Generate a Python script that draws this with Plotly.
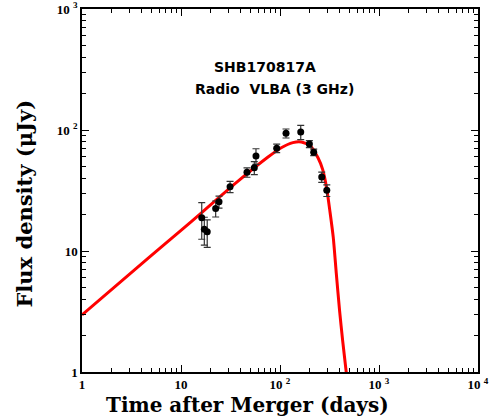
import plotly.graph_objects as go

# Radio (3 GHz) afterglow measurements of SHB170817A
days = [16.2, 17.2, 18.4, 22.4, 24.2, 31.3, 46.4, 55.0, 57.2, 92.6,
        115, 162, 198, 219, 264, 297]
flux = [18.8, 15.1, 14.4, 22.5, 25.5, 34.0, 44.7, 48.8, 61.0, 70.6,
        93.9, 96.3, 76.6, 65.4, 40.9, 31.7]
flux_err = [6.3, 3.9, 3.7, 3.4, 2.9, 3.6, 4.0, 6.0, 9.0, 5.7,
            8.0, 13.0, 5.0, 4.0, 4.0, 3.5]

# Model light curve (days, microJy)
model_days = [1, 4.86, 10, 16.3, 37.7, 75.7, 103, 135, 164, 200,
              242, 270, 296, 320, 345, 370, 400, 430, 464, 500]
model_flux = [2.96, 8.97, 14.8, 20.9, 37.8, 59.8, 71.4, 78.6, 79.6, 74.7,
              59.0, 47.0, 33.0, 21.0, 13.0, 6.6, 3.2, 1.8, 1.04, 0.6]

x_tickvals = [1, 10, 100, 1000, 10000]
x_ticktext = ["1", "10", "10 <sup>2</sup>", "10 <sup>3</sup>", "10 <sup>4</sup>"]
y_tickvals = [1, 10, 100, 1000]
y_ticktext = ["1", "10", "10 <sup>2</sup>", "10 <sup>3</sup>"]

serif = "Liberation Serif"
title_font = "DejaVu Serif"

fig = go.Figure()

fig.add_trace(go.Scatter(
    x=model_days, y=model_flux, mode="lines",
    line=dict(color="#ff0000", width=3, shape="spline", smoothing=0.6),
    hoverinfo="skip", showlegend=False,
))

fig.add_trace(go.Scatter(
    x=days, y=flux, mode="markers",
    marker=dict(color="black", size=7),
    error_y=dict(type="data", array=flux_err, color="#333333",
                 thickness=1.2, width=3.5),
    showlegend=False,
))

axis_common = dict(
    type="log",
    automargin=False,
    showline=True, linecolor="black", linewidth=1.5,
    mirror="allticks",
    ticks="inside", ticklen=7, tickwidth=1, tickcolor="black",
    showgrid=False, zeroline=False,
    tickfont=dict(family=serif, size=13, color="black", weight="bold"),
    minor=dict(ticks="inside", ticklen=4, tickwidth=1, tickcolor="black",
               dtick="D1", showgrid=False),
)

fig.update_xaxes(range=[0, 4], tickvals=x_tickvals, ticktext=x_ticktext,
                 **axis_common)
fig.update_yaxes(range=[0, 3], tickvals=y_tickvals, ticktext=y_ticktext,
                 **axis_common)

fig.update_layout(
    width=498, height=419, autosize=False,
    margin=dict(l=82, r=20, t=9, b=47),
    paper_bgcolor="white", plot_bgcolor="white",
    annotations=[
        dict(text="SHB170817A", xref="paper", yref="paper",
             x=0.3275, y=0.840, xanchor="left", yanchor="middle",
             showarrow=False,
             font=dict(family="DejaVu Sans", size=14, color="black",
                       weight="bold")),
        dict(text="Radio\u00a0\u00a0VLBA (3 GHz)", xref="paper", yref="paper",
             x=0.2795, y=0.780, xanchor="left", yanchor="middle",
             showarrow=False,
             font=dict(family="DejaVu Sans", size=14, color="black",
                       weight="bold")),
        dict(text="Time after Merger (days)", xref="paper", yref="paper",
             x=0.4167, y=-0.091, xanchor="center", yanchor="middle",
             showarrow=False,
             font=dict(family=title_font, size=20, color="black", weight="bold")),
        dict(text="Flux density (\u03bcJy)", xref="paper", yref="paper",
             x=-0.144, y=0.464, xanchor="center", yanchor="middle",
             textangle=-90, showarrow=False,
             font=dict(family=title_font, size=21, color="black", weight="bold")),
    ],
)

fig.write_html("out.html")
